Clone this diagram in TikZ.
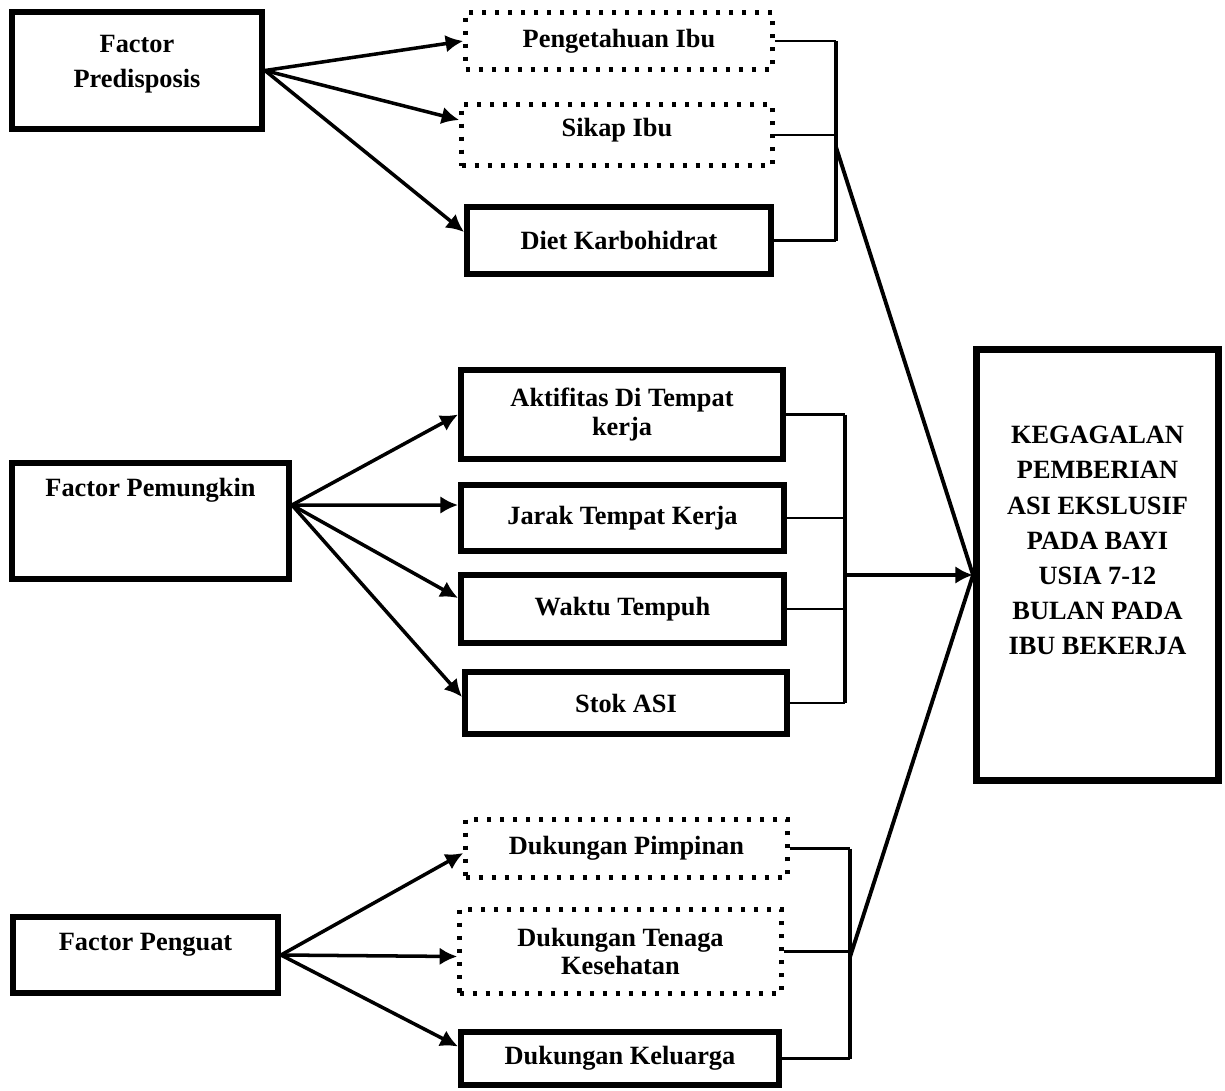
\documentclass[tikz,border=0pt]{standalone}
\usepackage{fontspec}
\setmainfont{Liberation Serif}
\usetikzlibrary{arrows.meta}

\tikzset{
  solidbox/.style={draw, line width=3.4pt, align=center, inner sep=0pt,
    font=\bfseries\fontsize{15}{20}\selectfont},
  dotbox/.style={solidbox, line width=2.6pt, dash pattern=on 2.7pt off 4.7pt},
  bigbox/.style={solidbox, line width=4pt},
  arr/.style={line width=2pt, -{Latex[length=10pt,width=10pt]}},
  link/.style={line width=1.3pt},
  spine/.style={line width=2pt},
  diag/.style={line width=2.2pt}
}

\begin{document}
\begin{tikzpicture}[x=0.02cm, y=-0.02cm]
\useasboundingbox (0,0) rectangle (1225,1090);

\node[solidbox, minimum width=5.0cm, minimum height=2.34cm, text depth=10pt] (pre) at (137,70.5) {Factor\\Predisposis};
\node[solidbox, minimum width=5.54cm, minimum height=2.32cm, text depth=38pt] (pem) at (150.5,521) {Factor Pemungkin};
\node[solidbox, minimum width=5.3cm, minimum height=1.52cm, text depth=15pt] (pgt) at (145.5,955) {Factor Penguat};

\node[dotbox, minimum width=6.14cm, minimum height=1.14cm] (pen) at (619,41) {Pengetahuan Ibu};
\node[dotbox, minimum width=6.22cm, minimum height=1.22cm, text depth=8.8pt] (sik) at (617,135) {Sikap Ibu};
\node[solidbox, minimum width=6.08cm, minimum height=1.34cm] (diet) at (619,240.5) {Diet Karbohidrat};

\node[solidbox, minimum width=6.44cm, minimum height=1.78cm, font=\bfseries\fontsize{15}{17}\selectfont] (akt) at (622,414.5) {Aktifitas Di Tempat\\kerja};
\node[solidbox, minimum width=6.46cm, minimum height=1.32cm] (jar) at (622.5,518) {Jarak Tempat Kerja};
\node[solidbox, minimum width=6.46cm, minimum height=1.36cm] (wak) at (622.5,609) {Waktu Tempuh};
\node[solidbox, minimum width=6.44cm, minimum height=1.24cm] (stok) at (626,703) {Stok ASI};

\node[dotbox, minimum width=6.44cm, minimum height=1.16cm] (pim) at (626.5,848.5) {Dukungan Pimpinan};
\node[dotbox, minimum width=6.44cm, minimum height=1.68cm, font=\bfseries\fontsize{15}{16}\selectfont] (ten) at (620.5,951.5) {Dukungan Tenaga\\Kesehatan};
\node[solidbox, minimum width=6.36cm, minimum height=1.06cm] (kel) at (620,1058.5) {Dukungan Keluarga};

\node[bigbox, minimum width=4.84cm, minimum height=8.62cm, text depth=28pt] (keg) at (1097.5,565)
  {KEGAGALAN\\PEMBERIAN\\ASI EKSLUSIF\\PADA BAYI\\USIA 7-12\\BULAN PADA\\IBU BEKERJA};

\draw[arr] (pre.east) -- (pen.west);
\draw[arr] (pre.east) -- ([yshift=0.3cm]sik.west);
\draw[arr] (pre.east) -- ([yshift=0.17cm]diet.west);

\draw[arr] ([yshift=0.32cm]pem.east) -- (akt.west);
\draw[arr] ([yshift=0.32cm]pem.east) -- ([yshift=0.26cm]jar.west);
\draw[arr] ([yshift=0.32cm]pem.east) -- ([yshift=0.22cm]wak.west);
\draw[arr] ([yshift=0.32cm]pem.east) -- ([yshift=0.12cm]stok.west);

\draw[arr] (pgt.east) -- ([yshift=-0.09cm]pim.west);
\draw[arr] (pgt.east) -- ([yshift=-0.1cm]ten.west);
\draw[arr] (pgt.east) -- ([yshift=0.24cm]kel.west);

\coordinate (hub) at ([yshift=-0.2cm]keg.west);
\coordinate (tb) at (836,147);
\coordinate (mb) at (hub -| 845,0);
\coordinate (bb) at (850,957);

\foreach \n in {pen,sik,diet} \draw[link] (\n.east) -- (\n.east -| tb);
\foreach \n in {akt,jar,wak,stok} \draw[link] (\n.east) -- (\n.east -| mb);
\foreach \n in {pim,ten,kel} \draw[link] (\n.east) -- (\n.east -| bb);
\draw[spine] (pen.east -| tb) -- (diet.east -| tb);
\draw[spine] (akt.east -| mb) -- (stok.east -| mb);
\draw[spine] (pim.east -| bb) -- (kel.east -| bb);

\draw[diag] (tb) -- (hub);
\draw[diag] (bb) -- (hub);
\draw[arr] (mb) -- (hub);
\end{tikzpicture}
\end{document}
